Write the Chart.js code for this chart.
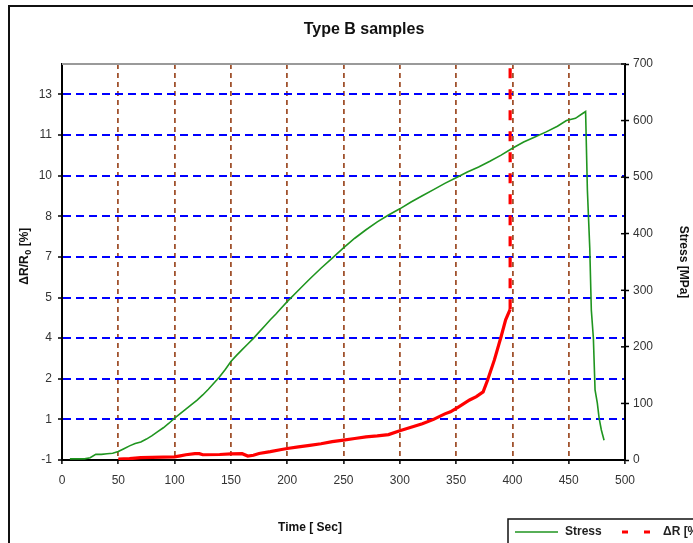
<!DOCTYPE html>
<html>
<head>
<meta charset="utf-8">
<script src="https://cdn.jsdelivr.net/npm/chart.js@4/dist/chart.umd.min.js"></script>
<style>
  html, body { margin: 0; padding: 0; background: #fff; }
  #wrap { width: 693px; height: 543px; position: relative; }
</style>
</head>
<body>
<div id="wrap"><canvas id="myChart"></canvas></div>
<script>
// stress curve (right axis, MPa) against time in seconds
const stressTime = [7, 20, 25, 30, 35, 40, 45, 50, 55, 60, 65, 70, 75, 80, 85, 90, 95,
  100, 105, 110, 115, 120, 125, 130, 135, 140, 145, 150, 155, 160, 165, 170, 175, 180,
  185, 190, 195, 200, 210, 220, 230, 240, 250, 260, 270, 280, 290, 300, 310, 320, 330,
  340, 350, 360, 370, 380, 390, 400, 410, 420, 430, 440, 448, 456, 462, 465,
  466.6, 468.7, 470.1, 471.9, 473.4, 475.4, 477, 479, 481.4];
const stressValues = [2, 2, 4, 10, 10, 11, 12, 15, 20, 25, 29, 32, 37, 43, 50, 57, 65,
  74, 82, 90, 98, 106, 115, 125, 136, 147, 160, 174, 185, 195, 205, 215, 226, 237,
  248, 258, 269, 280, 300, 320, 339, 357, 375, 392, 407, 421, 433, 444, 456, 467, 478,
  489, 499, 509, 518, 528, 539, 551, 562, 571, 580, 590, 600, 604, 612, 616,
  477, 375, 265, 216, 124, 101, 74, 53, 35];

// resistance change (left axis, %) against time in seconds
const deltaRTime = [50, 60, 70, 80, 90, 100, 105, 110, 118, 122, 125, 140, 150, 160, 165,
  170, 175, 185, 195, 200, 210, 220, 230, 240, 250, 260, 270, 280, 290, 300, 310, 320,
  330, 340, 345, 352, 362, 368, 374, 378, 384, 390, 394, 398, 398];
const deltaRValues = [-0.97, -0.95, -0.91, -0.9, -0.89, -0.88, -0.84, -0.8, -0.76, -0.76,
  -0.8, -0.79, -0.77, -0.76, -0.85, -0.82, -0.75, -0.68, -0.6, -0.56, -0.5, -0.44, -0.38,
  -0.3, -0.24, -0.18, -0.12, -0.08, -0.03, 0.12, 0.25, 0.38, 0.55, 0.76, 0.84, 1.02,
  1.29, 1.42, 1.6, 2.05, 2.82, 3.71, 4.35, 4.75, 15];

// left axis: excel style, min -1, major unit 1.55, labels rounded
const deltaRTickLabels = ['-1', '1', '2', '4', '5', '7', '8', '10', '11', '13'];
const deltaRMin = -1;
const deltaRStep = 1.55;
const deltaRMax = 14.11;

const textColor = '#333';
Chart.defaults.font.family = "'Liberation Sans', Arial, sans-serif";
Chart.defaults.font.size = 12;
Chart.defaults.color = textColor;

const toPoints = (xs, ys) => xs.map((x, i) => ({ x: x, y: ys[i] }));

// frame, titles, legend and the little extras excel draws
const decorPlugin = {
  id: 'decor',
  afterDraw: (chart) => {
    const ctx = chart.ctx;
    const area = chart.chartArea;
    ctx.save();

    // outer chart frame (runs off the picture on right/bottom)
    ctx.strokeStyle = '#111';
    ctx.lineWidth = 2;
    ctx.beginPath();
    ctx.moveTo(9, 560);
    ctx.lineTo(9, 6);
    ctx.lineTo(700, 6);
    ctx.stroke();

    // grey top edge of the plot area
    ctx.strokeStyle = '#9a9a9a';
    ctx.beginPath();
    ctx.moveTo(area.left, area.top);
    ctx.lineTo(area.right, area.top);
    ctx.stroke();

    // inner halves of the right axis tick marks
    const yr = chart.scales.yStress;
    ctx.strokeStyle = '#000';
    ctx.lineWidth = 1.5;
    yr.ticks.forEach(t => {
      const py = yr.getPixelForValue(t.value);
      ctx.beginPath();
      ctx.moveTo(area.right - 4, py);
      ctx.lineTo(area.right, py);
      ctx.stroke();
    });

    // title
    ctx.fillStyle = '#111';
    ctx.textAlign = 'center';
    ctx.textBaseline = 'middle';
    ctx.font = "bold 16px 'Liberation Sans', Arial, sans-serif";
    ctx.fillText('Type B samples', 364, 30);

    // axis titles
    ctx.font = "bold 12px 'Liberation Sans', Arial, sans-serif";
    ctx.fillText('Time [ Sec]', 310, 528);

    ctx.save();
    ctx.translate(25, 262);
    ctx.rotate(-Math.PI / 2);
    ctx.fillText('\u0394R/R', -8, 0);
    const w = ctx.measureText('\u0394R/R').width;
    ctx.font = "bold 9px 'Liberation Sans', Arial, sans-serif";
    ctx.fillText('0', -8 + w / 2 + 3, 4);
    ctx.font = "bold 12px 'Liberation Sans', Arial, sans-serif";
    ctx.textAlign = 'left';
    ctx.fillText('[%]', -8 + w / 2 + 9, 0);
    ctx.restore();

    ctx.save();
    ctx.translate(683, 262);
    ctx.rotate(Math.PI / 2);
    ctx.fillText('Stress [MPa]', 0, 0);
    ctx.restore();

    // legend box
    ctx.strokeStyle = '#111';
    ctx.lineWidth = 1.5;
    ctx.strokeRect(508, 519, 200, 40);
    const ds = chart.data.datasets;
    ctx.strokeStyle = ds[0].borderColor;
    ctx.lineWidth = ds[0].borderWidth;
    ctx.beginPath();
    ctx.moveTo(515, 532);
    ctx.lineTo(558, 532);
    ctx.stroke();
    ctx.fillStyle = '#222';
    ctx.textAlign = 'left';
    ctx.font = "bold 12px 'Liberation Sans', Arial, sans-serif";
    ctx.fillText(ds[0].label, 565, 532);
    ctx.strokeStyle = ds[1].borderColor;
    ctx.lineWidth = 3;
    ctx.setLineDash([6, 16]);
    ctx.beginPath();
    ctx.moveTo(622, 532);
    ctx.lineTo(660, 532);
    ctx.stroke();
    ctx.setLineDash([]);
    ctx.fillText(ds[1].label, 663, 532);

    ctx.restore();
  }
};

const ctx = document.getElementById('myChart').getContext('2d');
const chart = new Chart(ctx, {
  type: 'line',
  data: {
    datasets: [{
      label: 'Stress',
      data: toPoints(stressTime, stressValues),
      yAxisID: 'yStress',
      borderColor: '#1f951f',
      borderWidth: 1.6,
      pointRadius: 0,
      tension: 0,
      fill: false
    }, {
      label: '\u0394R [%]',
      data: toPoints(deltaRTime, deltaRValues),
      yAxisID: 'yDeltaR',
      borderColor: '#ff0000',
      borderWidth: 3.2,
      pointRadius: 0,
      tension: 0,
      fill: false,
      segment: {
        borderDash: c => c.p0.parsed.x === c.p1.parsed.x ? [10, 11] : undefined
      }
    }]
  },
  options: {
    responsive: true,
    maintainAspectRatio: false,
    animation: false,
    layout: { padding: { top: 64, left: 0, right: 0, bottom: 0 } },
    plugins: {
      legend: { display: false },
      title: { display: false },
      tooltip: { enabled: false }
    },
    scales: {
      x: {
        type: 'linear',
        min: 0,
        max: 500,
        ticks: { stepSize: 50, padding: 9, color: textColor, maxRotation: 0 },
        grid: {
          color: c => (c.tick && (c.tick.value === 0 || c.tick.value === 500)) ? 'rgba(0,0,0,0)' : '#a0522d',
          lineWidth: 1.8,
          tickColor: '#000',
          tickLength: 4,
          tickWidth: 1.5
        },
        border: { color: '#000', width: 2, dash: [5, 4] },
        afterFit: s => { s.height = 83; }
      },
      yDeltaR: {
        type: 'linear',
        position: 'left',
        min: deltaRMin,
        max: deltaRMax,
        afterBuildTicks: s => {
          s.ticks = deltaRTickLabels.map((l, i) => ({ value: deltaRMin + i * deltaRStep }));
        },
        ticks: {
          padding: 6,
          color: textColor,
          callback: (v, i) => deltaRTickLabels[i]
        },
        grid: {
          color: c => c.index === 0 ? 'rgba(0,0,0,0)' : '#0000ff',
          lineWidth: 2,
          tickColor: '#000',
          tickLength: 4,
          tickWidth: 1.5
        },
        border: { color: '#000', width: 2, dash: [8, 5] },
        afterFit: s => { s.width = 62; }
      },
      yStress: {
        type: 'linear',
        position: 'right',
        min: 0,
        max: 700,
        ticks: { stepSize: 100, padding: 4, color: textColor },
        grid: {
          drawOnChartArea: false,
          tickColor: '#000',
          tickLength: 4,
          tickWidth: 1.5
        },
        border: { color: '#000', width: 2 },
        afterFit: s => { s.width = 68; }
      }
    }
  },
  plugins: [decorPlugin]
});
</script>
</body>
</html>
